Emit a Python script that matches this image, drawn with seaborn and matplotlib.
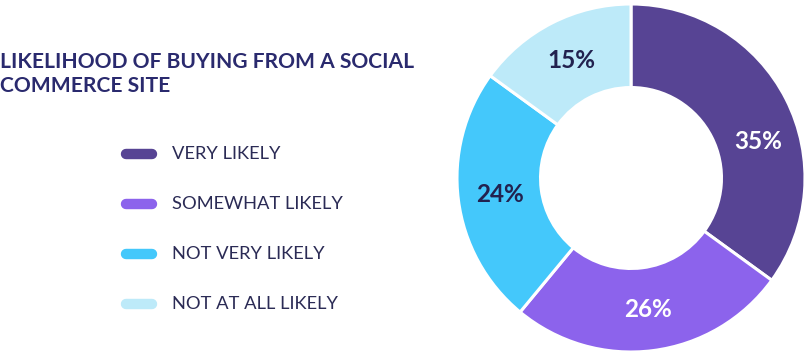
import matplotlib
matplotlib.use("Agg")
import matplotlib.pyplot as plt
from matplotlib.lines import Line2D
import seaborn as sns
import numpy as np

categories = ["VERY LIKELY", "SOMEWHAT LIKELY", "NOT VERY LIKELY", "NOT AT ALL LIKELY"]
values = [35, 26, 24, 15]
hex_colors = ["#574494", "#8c63ec", "#44c8fb", "#bdeaf9"]
label_colors = ["white", "white", "#22224f", "#22224f"]
title = "LIKELIHOOD OF BUYING FROM A SOCIAL\nCOMMERCE SITE"

# layout tweak: the first label sits a little further clockwise in the original
label_angle_nudge = [-11, 0, 0, 0]

sns.set_theme(style="white")
plt.rcParams["font.family"] = ["Lato", "DejaVu Sans"]
palette = sns.color_palette(hex_colors)

W, H = 809, 356
fig = plt.figure(figsize=(W / 100, H / 100), dpi=100)
fig.patch.set_facecolor("white")

cx, cy, R = 631, 178, 174
ax = fig.add_axes([(cx - R) / W, (H - cy - R) / H, 2 * R / W, 2 * R / H])
ring_w = 0.48
wedges, _ = ax.pie(values, colors=palette, startangle=90, counterclock=False,
                   radius=1, wedgeprops=dict(width=ring_w, edgecolor="white", linewidth=2.2))
ax.set_xlim(-1, 1)
ax.set_ylim(-1, 1)
ax.set_aspect("equal")
ax.axis("off")

r_lab = 1 - ring_w / 2
for w, v, tc, nd in zip(wedges, values, label_colors, label_angle_nudge):
    ang = np.deg2rad((w.theta1 + w.theta2) / 2 + nd)
    ax.text(r_lab * np.cos(ang), r_lab * np.sin(ang), f"{v}%", ha="center", va="center",
            fontsize=17.5, fontweight="bold", color=tc)

fig.text(0 / W, 1 - 52 / H, title, ha="left", va="top", fontsize=15.1, fontweight="bold",
         color="#2a2a6e", linespacing=1.25)

for i, (lab, col) in enumerate(zip(categories, palette)):
    y = 1 - (154 + 50 * i) / H
    fig.add_artist(Line2D([126 / W, 152 / W], [y, y], transform=fig.transFigure,
                          color=col, lw=7.5, solid_capstyle="round"))
    fig.text(172 / W, y, lab, ha="left", va="center", fontsize=13.2, color="#2b2b55")

fig.savefig("out.png", dpi=100, facecolor="white")
